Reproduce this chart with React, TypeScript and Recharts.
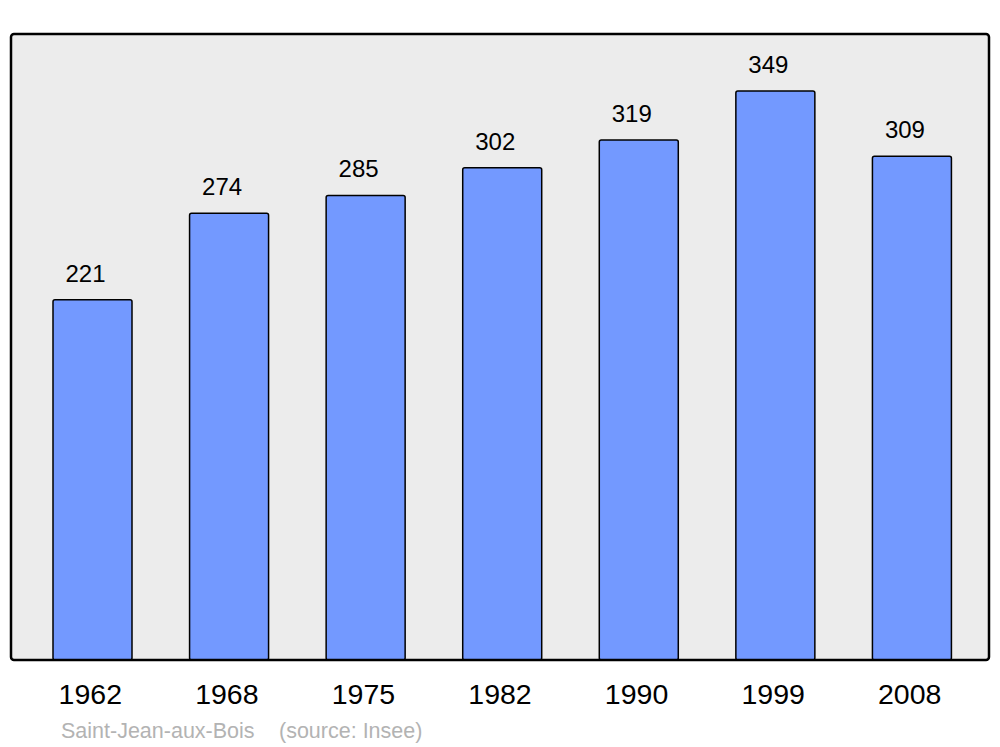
import { Bar, BarChart, CartesianGrid, LabelList, XAxis, YAxis } from 'recharts'

const years = ['1962', '1968', '1975', '1982', '1990', '1999', '2008']
const population = [221, 274, 285, 302, 319, 349, 309]
const commune = 'Saint-Jean-aux-Bois'
const source = '(source: Insee)'

const data = years.map((year, i) => ({ year, population: population[i] }))

const FONT = '"Liberation Sans", Arial, sans-serif'

const ValueLabel = (props: any) => {
  const { x, y, width, value } = props
  return (
    <text
      x={Number(x) + Number(width) / 2 - 7}
      y={Number(y) - 18}
      textAnchor="middle"
      fontSize={24}
      fontFamily={FONT}
      fill="#000"
    >
      {value}
    </text>
  )
}

const YearTick = (props: any) => {
  const { x, y, payload } = props
  return (
    <text x={x - 2} y={y + 36} textAnchor="middle" fontSize={28.5} fontFamily={FONT} fill="#000">
      {payload.value}
    </text>
  )
}

export default function App() {
  return (
    <div style={{ position: 'absolute', left: 0, top: 0, width: 1000, height: 747, background: '#fff' }}>
      <BarChart
        width={1000}
        height={747}
        data={data}
        margin={{ top: 34, right: 11, left: 11, bottom: 27 }}
      >
        <CartesianGrid fill="#ececec" horizontal={false} vertical={false} />
        <XAxis
          dataKey="year"
          height={60}
          axisLine={false}
          tickLine={false}
          tick={<YearTick />}
          padding={{ left: 13, right: 9 }}
          interval={0}
        />
        <YAxis hide domain={[0, 384]} />
        <Bar
          dataKey="population"
          fill="#7399ff"
          stroke="#000"
          strokeWidth={1.5}
          barSize={79}
          radius={2}
          isAnimationActive={false}
        >
          <LabelList dataKey="population" content={<ValueLabel />} />
        </Bar>
      </BarChart>
      <svg width={1000} height={747} style={{ position: 'absolute', left: 0, top: 0, pointerEvents: 'none' }}>
        {/* plot frame */}
        <rect x={11} y={34} width={978} height={626} rx={3} fill="none" stroke="#000" strokeWidth={2.5} />
        <text x={61} y={738} fontSize={21.5} fontFamily={FONT} fill="#b3b3b3">
          {commune}
        </text>
        <text x={279} y={738} fontSize={21.5} fontFamily={FONT} fill="#b3b3b3">
          {source}
        </text>
      </svg>
    </div>
  )
}
